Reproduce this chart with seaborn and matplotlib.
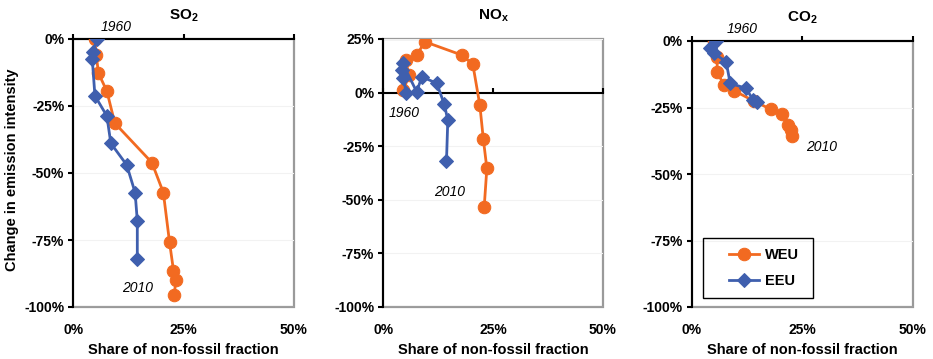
import matplotlib
matplotlib.use("Agg")
import matplotlib.pyplot as plt
from matplotlib.patches import Rectangle
from matplotlib.ticker import FuncFormatter, MultipleLocator
import seaborn as sns

plt.rcParams['font.family'] = ['Liberation Sans', 'DejaVu Sans']
plt.rcParams['mathtext.fontset'] = 'custom'
plt.rcParams['mathtext.rm'] = 'Liberation Sans:bold'
plt.rcParams['mathtext.it'] = 'Liberation Sans:bold'
plt.rcParams['mathtext.bf'] = 'Liberation Sans:bold'
plt.rcParams['axes.unicode_minus'] = False

# ---------------- data (percent) ----------------
titles = [r'SO$_2$', r'NO$_x$', r'CO$_2$']
series_names = ['WEU', 'EEU']

so2_weu_x = [4.9, 5.2, 5.7, 7.6, 9.4, 17.8, 20.4, 21.8, 22.7, 23.3, 22.8]
so2_weu_y = [0, -6, -12.8, -19.4, -31.4, -46.1, -57.3, -75.8, -86.4, -90.1, -95.5]
so2_eeu_x = [5.3, 4.5, 4.3, 4.9, 7.6, 8.5, 12.1, 14.0, 14.5, 14.5]
so2_eeu_y = [0, -5, -7.5, -21.2, -28.7, -38.9, -47, -57.3, -67.8, -82.1]

nox_weu_x = [4.6, 5.8, 5.2, 7.6, 9.5, 17.9, 20.4, 22.0, 22.8, 23.6, 23.0]
nox_weu_y = [1, 8, 15, 17.5, 23.7, 17.5, 13.2, -5.8, -21.8, -35.3, -53.2]
nox_eeu_x = [5.2, 4.6, 4.2, 4.4, 7.6, 8.8, 12.2, 13.9, 14.7, 14.4]
nox_eeu_y = [0, 6.7, 10.5, 13.7, 0.4, 7.4, 4.3, -5.5, -12.8, -31.9]

co2_weu_x = [5.1, 5.7, 5.8, 7.2, 9.6, 14.0, 17.9, 20.5, 21.9, 22.4, 22.8]
co2_weu_y = [0, -5.9, -11.5, -16.5, -18.7, -22.5, -25.7, -27.5, -31.5, -33.4, -35.9]
co2_eeu_x = [5.5, 4.1, 5.0, 7.8, 8.7, 12.3, 13.9, 14.7]
co2_eeu_y = [0, -2.7, -4.6, -7.8, -15.9, -17.8, -22.2, -22.8]

ylims = [(-100, 0), (-100, 25), (-100, 0)]
xlim = (0, 50)
xlabel = 'Share of non-fossil fraction'
ylabel = 'Change in emission intensity'
year_labels = ['1960', '2010']
# ------------------------------------------------

ORANGE = '#F26A21'
BLUE = '#3F5FAE'
GRAY = '#9a9a9a'

panels = [
    (so2_weu_x, so2_weu_y, so2_eeu_x, so2_eeu_y),
    (nox_weu_x, nox_weu_y, nox_eeu_x, nox_eeu_y),
    (co2_weu_x, co2_weu_y, co2_eeu_x, co2_eeu_y),
]

fig = plt.figure(figsize=(9.33, 3.59), dpi=100)
W, H = 933, 359
boxes = [(73.3, 39, 220.7, 268), (383.3, 39, 219.4, 268), (691.7, 41, 221, 266)]
annots = [((9.7, 4.5), (14.5, -92.8)),
          ((4.7, -9.5), (15.2, -46.4)),
          ((11.5, 4.5), (29.3, -39.8))]

pctfmt = FuncFormatter(lambda v, p: f'{v:.0f}%')

for i, (bx, data, ylim) in enumerate(zip(boxes, panels, ylims)):
    l, t, w, h = bx
    ax = fig.add_axes([l / W, 1 - (t + h) / H, w / W, h / H])
    wx, wy, ex, ey = data
    sns.lineplot(x=wx, y=wy, sort=False, estimator=None, ax=ax, color=ORANGE,
                 lw=2.0, marker='o', markersize=9, markeredgecolor=ORANGE,
                 label=series_names[0], zorder=3)
    sns.lineplot(x=ex, y=ey, sort=False, estimator=None, ax=ax, color=BLUE,
                 lw=2.0, marker='D', markersize=7, markeredgecolor=BLUE,
                 label=series_names[1], zorder=4)
    ax.set_xlim(*xlim)
    ax.set_ylim(*ylim)
    ax.xaxis.set_major_locator(MultipleLocator(25))
    ax.yaxis.set_major_locator(MultipleLocator(25))
    ax.xaxis.set_major_formatter(pctfmt)
    ax.yaxis.set_major_formatter(pctfmt)
    ax.set_xlabel(xlabel, fontsize=10.5, fontweight='bold', labelpad=4)
    ax.set_ylabel('')
    ax.set_title(titles[i], fontsize=11, fontweight='bold', pad=14)

    # frame
    for s in ['bottom', 'right']:
        ax.spines[s].set_visible(False)
    ax.spines['left'].set_color('black')
    ax.spines['left'].set_linewidth(1.5)
    ax.spines['top'].set_position(('data', 0))
    ax.spines['top'].set_color('black')
    ax.spines['top'].set_linewidth(1.5)
    ax.spines['top'].set_zorder(2.5)
    ax.add_patch(Rectangle((0, 0), 1, 1, transform=ax.transAxes, fill=False,
                           edgecolor=GRAY, lw=1.6, zorder=0.5, clip_on=False))
    ax.grid(axis='y', color='#f2f2f2', lw=0.8, zorder=0)
    ax.set_axisbelow(True)

    ax.tick_params(axis='x', which='both', bottom=False, top=True, labelbottom=True,
                   labeltop=False, direction='out', length=3.5, width=1.5, color='black',
                   pad=8, labelsize=10)
    ax.tick_params(axis='y', left=True, direction='out', length=3.5, width=1.5,
                   color='black', pad=3, labelsize=10)
    for lab in ax.get_xticklabels() + ax.get_yticklabels():
        lab.set_fontweight('bold')

    (a1, a2) = annots[i]
    ax.text(a1[0], a1[1], year_labels[0], fontsize=10, style='italic',
            ha='center', va='center', clip_on=False, zorder=6)
    ax.text(a2[0], a2[1], year_labels[1], fontsize=10, style='italic',
            ha='center', va='center', clip_on=False, zorder=6)

    if i == 2:
        leg = ax.legend(loc='center left', bbox_to_anchor=(0.135, 0.147), frameon=False,
                        borderpad=0, handlelength=2.1, handletextpad=0.35,
                        labelspacing=0.85, prop={'size': 10.5, 'weight': 'bold'})
        ax.add_patch(Rectangle((0.05, 0.033), 0.497, 0.225, transform=ax.transAxes,
                               fill=False, edgecolor='black', lw=1.0, zorder=5))
    else:
        ax.get_legend().remove()

fig.text(12 / W, 1 - 170 / H, ylabel, rotation=90, fontsize=10.5, fontweight='bold',
         ha='center', va='center')

fig.savefig('out.png', dpi=100)
